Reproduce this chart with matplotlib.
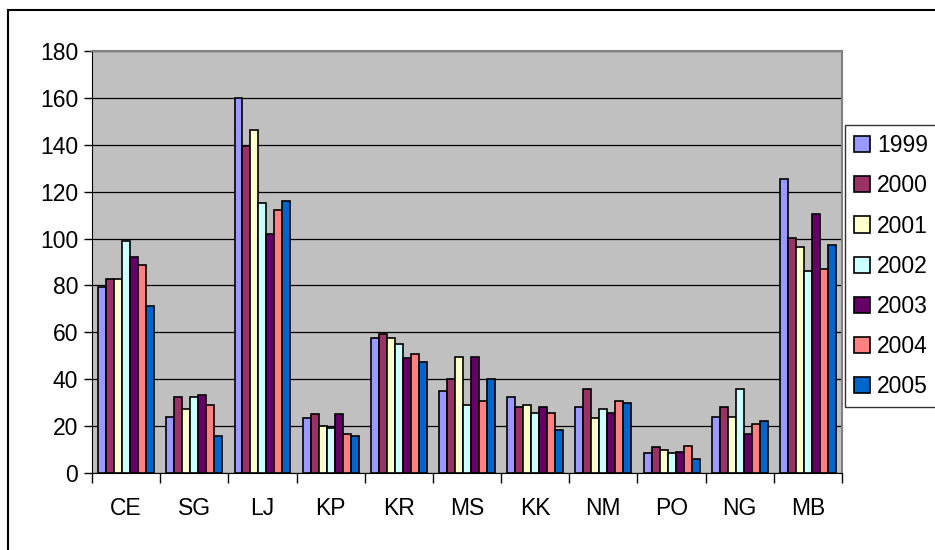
import matplotlib
matplotlib.use("Agg")
import matplotlib.pyplot as plt
import numpy as np
from matplotlib.patches import Rectangle

plt.rcParams['font.family'] = ['Liberation Sans', 'DejaVu Sans']

categories = ["CE", "SG", "LJ", "KP", "KR", "MS", "KK", "NM", "PO", "NG", "MB"]
years = ["1999", "2000", "2001", "2002", "2003", "2004", "2005"]
v1999 = [79.5, 24, 160, 23.3, 57.5, 35, 32.3, 28.3, 8.4, 24, 125.2]
v2000 = [82.9, 32.3, 139.4, 25, 59.1, 40, 28.3, 35.7, 11, 28.3, 100.3]
v2001 = [82.9, 27.3, 146.1, 20, 57.5, 49.6, 29.1, 23.3, 9.8, 24, 96.2]
v2002 = [98.8, 32.3, 115.3, 19.3, 55, 29, 25.7, 27.4, 8.4, 35.7, 86.3]
v2003 = [92.1, 33.1, 102, 25, 48.9, 49.6, 28.3, 25.7, 9.1, 16.6, 110.3]
v2004 = [88.7, 29, 112, 16.6, 50.7, 30.8, 25.7, 30.8, 11.7, 20.7, 87.1]
v2005 = [71.4, 15.8, 116.1, 15.8, 47.2, 40, 18.3, 30, 5.8, 22.3, 97.1]
series = [v1999, v2000, v2001, v2002, v2003, v2004, v2005]
colors = ["#9999FF", "#993366", "#FFFFCC", "#CCFFFF", "#660066", "#FF8080", "#0066CC"]

FS = 16.5
W, H = 935, 550
fig = plt.figure(figsize=(W / 100, H / 100), dpi=100)
fig.patch.set_facecolor("white")
ax = fig.add_axes([92 / W, 1 - 473 / H, (842 - 92) / W, (473 - 51) / H])
ax.set_facecolor("#C0C0C0")

n = len(categories)
x = np.arange(n)
group = 0.82
bw = group / len(series)
handles = []
for i, (vals, c) in enumerate(zip(series, colors)):
    off = -group / 2 + bw * (i + 0.5)
    h = ax.bar(x + off, vals, width=bw, color=c, edgecolor="black", linewidth=1.2,
               label=years[i], zorder=3)
    handles.append(h)

ax.set_xlim(-0.5, n - 0.5)
ax.set_ylim(0, 180)
ax.set_yticks(np.arange(0, 181, 20))
ax.yaxis.grid(True, color="black", linewidth=0.9, zorder=0)
ax.set_axisbelow(True)
ax.set_xticks(x)
ax.set_xticklabels(categories, fontsize=FS)
ax.set_xticks(np.arange(-0.5, n, 1), minor=True)
ax.tick_params(axis="x", which="major", length=0, pad=17)
ax.tick_params(axis="x", which="minor", length=7, width=1, color="black", direction="out")
ax.tick_params(axis="y", length=6, width=1, labelsize=FS, pad=4)
for s in ["top", "right"]:
    ax.spines[s].set_color("#808080")
    ax.spines[s].set_linewidth(1.5)
ax.spines["left"].set_color("black")
ax.spines["bottom"].set_color("black")

leg = fig.legend(handles=handles, labels=years, loc="upper left",
                 bbox_to_anchor=(845 / W, 1 - 125 / H), fontsize=FS,
                 frameon=True, fancybox=False, edgecolor="black",
                 handlelength=0.7, handleheight=0.7, handletextpad=0.3,
                 labelspacing=0.75, borderpad=0.4, borderaxespad=0)
leg.get_frame().set_linewidth(1.0)

fig.patches.append(Rectangle((8 / W, -0.1), 1.0, 1.1 - 10 / H, transform=fig.transFigure,
                             fill=False, edgecolor="black", linewidth=1.5))

fig.savefig("out.png", dpi=100)
